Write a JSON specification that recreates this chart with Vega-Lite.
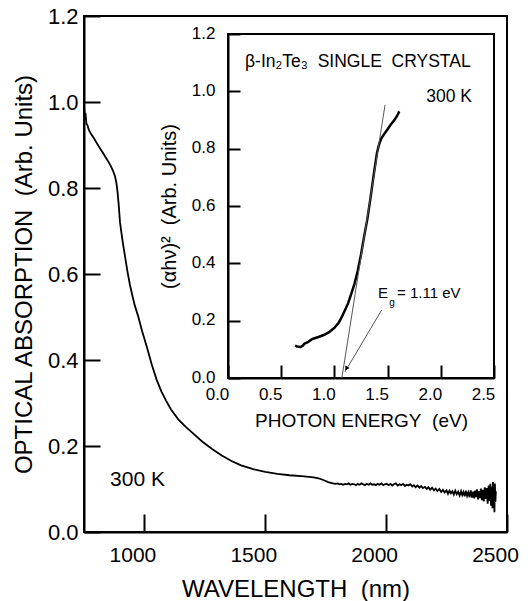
{
  "$schema": "https://vega.github.io/schema/vega-lite/v6.json",
  "width": 423,
  "height": 516,
  "autosize": "none",
  "padding": {"left": 84, "top": 16, "right": 23, "bottom": 69},
  "background": "white",
  "config": {
    "view": {"stroke": "black", "strokeWidth": 2},
    "font": "Liberation Sans",
    "text": {"font": "Liberation Sans", "color": "black"},
    "axis": {
      "grid": false,
      "domainColor": "black",
      "domainWidth": 2,
      "tickColor": "black",
      "tickWidth": 2,
      "labelColor": "black",
      "titleColor": "black",
      "labelFont": "Liberation Sans",
      "titleFont": "Liberation Sans",
      "titleFontWeight": "normal",
      "labelFlush": false,
      "labelOverlap": false
    }
  },
  "datasets": {
    "main": [
      {"wl": 750, "abs": 0.99}, {"wl": 753, "abs": 0.965}, {"wl": 756, "abs": 0.975}, {"wl": 760, "abs": 0.95},
      {"wl": 765, "abs": 0.945}, {"wl": 770, "abs": 0.935}, {"wl": 780, "abs": 0.925}, {"wl": 790, "abs": 0.917},
      {"wl": 800, "abs": 0.907}, {"wl": 810, "abs": 0.898}, {"wl": 820, "abs": 0.889}, {"wl": 830, "abs": 0.88},
      {"wl": 840, "abs": 0.871}, {"wl": 850, "abs": 0.862}, {"wl": 860, "abs": 0.852}, {"wl": 870, "abs": 0.84},
      {"wl": 878, "abs": 0.828}, {"wl": 884, "abs": 0.812}, {"wl": 888, "abs": 0.795}, {"wl": 893, "abs": 0.765},
      {"wl": 899, "abs": 0.72}, {"wl": 905, "abs": 0.695}, {"wl": 910, "abs": 0.675}, {"wl": 920, "abs": 0.64},
      {"wl": 930, "abs": 0.605}, {"wl": 940, "abs": 0.575}, {"wl": 950, "abs": 0.55}, {"wl": 960, "abs": 0.527},
      {"wl": 975, "abs": 0.5}, {"wl": 990, "abs": 0.468}, {"wl": 1010, "abs": 0.43}, {"wl": 1030, "abs": 0.39},
      {"wl": 1050, "abs": 0.355}, {"wl": 1070, "abs": 0.327}, {"wl": 1090, "abs": 0.305}, {"wl": 1110, "abs": 0.285},
      {"wl": 1140, "abs": 0.262}, {"wl": 1170, "abs": 0.245}, {"wl": 1200, "abs": 0.23}, {"wl": 1240, "abs": 0.21},
      {"wl": 1280, "abs": 0.193}, {"wl": 1320, "abs": 0.178}, {"wl": 1360, "abs": 0.165}, {"wl": 1400, "abs": 0.155},
      {"wl": 1450, "abs": 0.146}, {"wl": 1500, "abs": 0.14}, {"wl": 1550, "abs": 0.135}, {"wl": 1600, "abs": 0.132},
      {"wl": 1650, "abs": 0.13}, {"wl": 1700, "abs": 0.127}, {"wl": 1720, "abs": 0.125}, {"wl": 1740, "abs": 0.121},
      {"wl": 1760, "abs": 0.116}, {"wl": 1780, "abs": 0.113}, {"wl": 1790, "abs": 0.112},
      {"wl": 1800, "abs": 0.113}, {"wl": 1808, "abs": 0.111}, {"wl": 1815, "abs": 0.112}, {"wl": 1822, "abs": 0.11},
      {"wl": 1830, "abs": 0.112}, {"wl": 1838, "abs": 0.111}, {"wl": 1845, "abs": 0.113}, {"wl": 1852, "abs": 0.11},
      {"wl": 1860, "abs": 0.112}, {"wl": 1868, "abs": 0.111}, {"wl": 1875, "abs": 0.109}, {"wl": 1882, "abs": 0.112},
      {"wl": 1890, "abs": 0.11}, {"wl": 1898, "abs": 0.113}, {"wl": 1905, "abs": 0.111}, {"wl": 1912, "abs": 0.109},
      {"wl": 1920, "abs": 0.112}, {"wl": 1928, "abs": 0.11}, {"wl": 1935, "abs": 0.113}, {"wl": 1942, "abs": 0.11},
      {"wl": 1950, "abs": 0.111}, {"wl": 1958, "abs": 0.109}, {"wl": 1965, "abs": 0.112}, {"wl": 1972, "abs": 0.11},
      {"wl": 1980, "abs": 0.113}, {"wl": 1988, "abs": 0.109}, {"wl": 1995, "abs": 0.111}, {"wl": 2002, "abs": 0.112},
      {"wl": 2010, "abs": 0.109}, {"wl": 2018, "abs": 0.112}, {"wl": 2025, "abs": 0.108}, {"wl": 2032, "abs": 0.111},
      {"wl": 2040, "abs": 0.113}, {"wl": 2048, "abs": 0.108}, {"wl": 2055, "abs": 0.111}, {"wl": 2062, "abs": 0.109},
      {"wl": 2070, "abs": 0.112}, {"wl": 2078, "abs": 0.107}, {"wl": 2085, "abs": 0.11}, {"wl": 2092, "abs": 0.108},
      {"wl": 2100, "abs": 0.111}, {"wl": 2108, "abs": 0.106}, {"wl": 2115, "abs": 0.109}, {"wl": 2122, "abs": 0.104},
      {"wl": 2130, "abs": 0.108}, {"wl": 2138, "abs": 0.103}, {"wl": 2145, "abs": 0.107}, {"wl": 2152, "abs": 0.102},
      {"wl": 2160, "abs": 0.105}, {"wl": 2168, "abs": 0.1}, {"wl": 2175, "abs": 0.104}, {"wl": 2182, "abs": 0.098},
      {"wl": 2190, "abs": 0.103}, {"wl": 2198, "abs": 0.097}, {"wl": 2205, "abs": 0.101}, {"wl": 2212, "abs": 0.095},
      {"wl": 2220, "abs": 0.1}, {"wl": 2228, "abs": 0.093}, {"wl": 2235, "abs": 0.098}, {"wl": 2242, "abs": 0.092},
      {"wl": 2250, "abs": 0.097}, {"wl": 2256, "abs": 0.089}, {"wl": 2262, "abs": 0.096}, {"wl": 2268, "abs": 0.09},
      {"wl": 2274, "abs": 0.095}, {"wl": 2280, "abs": 0.087}, {"wl": 2286, "abs": 0.096}, {"wl": 2292, "abs": 0.088},
      {"wl": 2298, "abs": 0.094}, {"wl": 2304, "abs": 0.085}, {"wl": 2310, "abs": 0.095}, {"wl": 2315, "abs": 0.086},
      {"wl": 2320, "abs": 0.093}, {"wl": 2325, "abs": 0.083}, {"wl": 2330, "abs": 0.096}, {"wl": 2335, "abs": 0.084},
      {"wl": 2340, "abs": 0.092}, {"wl": 2345, "abs": 0.081}, {"wl": 2350, "abs": 0.097}, {"wl": 2355, "abs": 0.08},
      {"wl": 2360, "abs": 0.094}, {"wl": 2364, "abs": 0.078}, {"wl": 2368, "abs": 0.096}, {"wl": 2372, "abs": 0.081},
      {"wl": 2376, "abs": 0.099}, {"wl": 2380, "abs": 0.076}, {"wl": 2384, "abs": 0.095}, {"wl": 2388, "abs": 0.079},
      {"wl": 2392, "abs": 0.101}, {"wl": 2396, "abs": 0.074}, {"wl": 2400, "abs": 0.098}, {"wl": 2404, "abs": 0.071},
      {"wl": 2408, "abs": 0.104}, {"wl": 2412, "abs": 0.077}, {"wl": 2416, "abs": 0.102}, {"wl": 2420, "abs": 0.066},
      {"wl": 2424, "abs": 0.108}, {"wl": 2428, "abs": 0.072}, {"wl": 2431, "abs": 0.112}, {"wl": 2434, "abs": 0.061},
      {"wl": 2437, "abs": 0.106}, {"wl": 2440, "abs": 0.055}, {"wl": 2442, "abs": 0.116}, {"wl": 2444, "abs": 0.068},
      {"wl": 2446, "abs": 0.109}, {"wl": 2448, "abs": 0.046}, {"wl": 2450, "abs": 0.113}, {"wl": 2452, "abs": 0.07},
      {"wl": 2454, "abs": 0.095}
    ],
    "inset": [
      {"e": 0.63, "v": 0.113}, {"e": 0.65, "v": 0.11}, {"e": 0.68, "v": 0.108}, {"e": 0.7, "v": 0.112},
      {"e": 0.72, "v": 0.12}, {"e": 0.75, "v": 0.125}, {"e": 0.78, "v": 0.133}, {"e": 0.8, "v": 0.137},
      {"e": 0.85, "v": 0.143}, {"e": 0.9, "v": 0.15}, {"e": 0.95, "v": 0.16}, {"e": 1.0, "v": 0.175},
      {"e": 1.04, "v": 0.193}, {"e": 1.07, "v": 0.213}, {"e": 1.1, "v": 0.237}, {"e": 1.13, "v": 0.262},
      {"e": 1.16, "v": 0.295}, {"e": 1.19, "v": 0.33}, {"e": 1.22, "v": 0.375}, {"e": 1.25, "v": 0.43},
      {"e": 1.28, "v": 0.495}, {"e": 1.31, "v": 0.555}, {"e": 1.34, "v": 0.63}, {"e": 1.37, "v": 0.71},
      {"e": 1.4, "v": 0.785}, {"e": 1.42, "v": 0.815}, {"e": 1.44, "v": 0.835}, {"e": 1.47, "v": 0.852},
      {"e": 1.5, "v": 0.868}, {"e": 1.53, "v": 0.884}, {"e": 1.56, "v": 0.898}, {"e": 1.59, "v": 0.915},
      {"e": 1.61, "v": 0.93}
    ],
    "guides": [
      {"line": "tangent", "e": 1.07, "v": 0.0}, {"line": "tangent", "e": 1.476, "v": 0.952},
      {"line": "arrow", "e": 1.1, "v": 0.022}, {"line": "arrow", "e": 1.444, "v": 0.237}
    ]
  },
  "layer": [
    {
      "layer": [
        {
          "data": {"name": "main"},
          "mark": {"type": "line", "color": "black", "strokeWidth": 1.8, "clip": true},
          "encoding": {
            "x": {
              "field": "wl", "type": "quantitative",
              "scale": {"domain": [750, 2500], "nice": false, "zero": false},
              "axis": {
                "values": [1000, 1500, 2000, 2500], "format": "d", "tickSize": -18, "labelPadding": 30,
                "labelFontSize": 21, "labelOffset": -12,
                "title": "WAVELENGTH\u00a0 (nm)", "titleFontSize": 24, "titlePadding": 12
              }
            },
            "y": {
              "field": "abs", "type": "quantitative",
              "scale": {"domain": [0, 1.2], "nice": false},
              "axis": {
                "values": [0, 0.2, 0.4, 0.6, 0.8, 1.0, 1.2], "format": ".1f", "tickSize": -16,
                "labelPadding": 22, "labelFontSize": 22,
                "title": "OPTICAL ABSORPTION\u00a0 (Arb. Units)", "titleFontSize": 24, "titlePadding": 11
              }
            }
          }
        },
        {
          "data": {"values": [{"wl": 858, "abs": 0.121, "label": "300 K"}]},
          "mark": {"type": "text", "align": "left", "baseline": "middle", "fontSize": 21},
          "encoding": {
            "x": {"field": "wl", "type": "quantitative"},
            "y": {"field": "abs", "type": "quantitative"},
            "text": {"field": "label"}
          }
        }
      ]
    },
    {
      "layer": [
        {
          "data": {"values": [{"e0": 0, "e1": 2.5, "v0": 0, "v1": 1.2}]},
          "mark": {"type": "rect", "fill": null, "fillOpacity": 0, "stroke": "black", "strokeWidth": 2},
          "encoding": {
            "x": {
              "field": "e0", "type": "quantitative",
              "scale": {"domain": [0, 2.5], "range": [144, 410], "nice": false, "zero": false},
              "axis": {
                "orient": "bottom", "offset": -154,
                "values": [0, 0.5, 1.0, 1.5, 2.0, 2.5], "format": ".1f", "tickSize": -13,
                "labelPadding": 21, "labelFontSize": 17, "labelOffset": -11,
                "title": "PHOTON ENERGY\u00a0 (eV)", "titleFontSize": 19, "titlePadding": 9
              }
            },
            "x2": {"field": "e1"},
            "y": {
              "field": "v0", "type": "quantitative",
              "scale": {"domain": [0, 1.2], "range": [362, 18], "nice": false},
              "axis": {
                "orient": "left", "offset": -144,
                "values": [0, 0.2, 0.4, 0.6, 0.8, 1.0, 1.2], "format": ".1f", "tickSize": -12,
                "labelPadding": 25, "labelFontSize": 17, "labelOffset": -1,
                "title": "(αhν)²\u00a0 (Arb. Units)", "titleFontSize": 20, "titlePadding": 12
              }
            },
            "y2": {"field": "v1"}
          }
        },
        {
          "data": {"name": "inset"},
          "mark": {"type": "line", "color": "black", "strokeWidth": 2.5},
          "encoding": {
            "x": {"field": "e", "type": "quantitative"},
            "y": {"field": "v", "type": "quantitative"}
          }
        },
        {
          "data": {"name": "guides"},
          "mark": {"type": "line", "color": "#555555", "strokeWidth": 1},
          "encoding": {
            "x": {"field": "e", "type": "quantitative"},
            "y": {"field": "v", "type": "quantitative"},
            "detail": {"field": "line"}
          }
        },
        {
          "data": {"values": [{"e": 1.112, "v": 0.033}]},
          "mark": {"type": "point", "shape": "triangle-down", "angle": 31, "size": 25, "filled": true, "color": "black", "opacity": 1},
          "encoding": {
            "x": {"field": "e", "type": "quantitative"},
            "y": {"field": "v", "type": "quantitative"}
          }
        },
        {
          "data": {"values": [{"e": 0.16, "v": 1.102, "label": "β-In₂Te₃\u00a0 SINGLE\u00a0 CRYSTAL"}]},
          "mark": {"type": "text", "align": "left", "baseline": "middle", "fontSize": 17.5},
          "encoding": {
            "x": {"field": "e", "type": "quantitative"},
            "y": {"field": "v", "type": "quantitative"},
            "text": {"field": "label"}
          }
        },
        {
          "data": {"values": [{"e": 2.293, "v": 0.98, "label": "300 K"}]},
          "mark": {"type": "text", "align": "right", "baseline": "middle", "fontSize": 17.5},
          "encoding": {
            "x": {"field": "e", "type": "quantitative"},
            "y": {"field": "v", "type": "quantitative"},
            "text": {"field": "label"}
          }
        },
        {
          "data": {"values": [
            {"e": 1.41, "v": 0.296, "label": "E"},
            {"e": 1.588, "v": 0.296, "label": "= 1.11 eV"}
          ]},
          "mark": {"type": "text", "align": "left", "baseline": "middle", "fontSize": 15},
          "encoding": {
            "x": {"field": "e", "type": "quantitative"},
            "y": {"field": "v", "type": "quantitative"},
            "text": {"field": "label"}
          }
        },
        {
          "data": {"values": [{"e": 1.515, "v": 0.262, "label": "g"}]},
          "mark": {"type": "text", "align": "left", "baseline": "middle", "fontSize": 10},
          "encoding": {
            "x": {"field": "e", "type": "quantitative"},
            "y": {"field": "v", "type": "quantitative"},
            "text": {"field": "label"}
          }
        }
      ]
    }
  ],
  "resolve": {"scale": {"x": "independent", "y": "independent"}, "axis": {"x": "independent", "y": "independent"}}
}
